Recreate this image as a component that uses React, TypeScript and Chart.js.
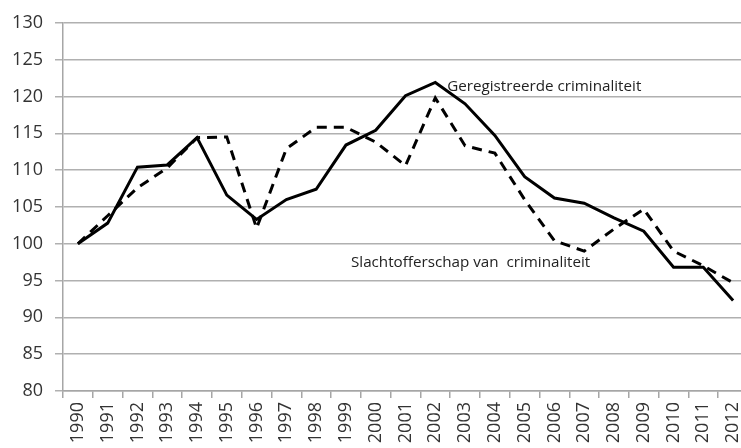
import React, { useEffect, useRef } from "react";
import { Chart, registerables } from "chart.js";

Chart.register(...registerables);

const years = ["1990","1991","1992","1993","1994","1995","1996","1997","1998","1999","2000","2001","2002","2003","2004","2005","2006","2007","2008","2009","2010","2011","2012"];
const geregistreerd = [100, 102.8, 110.4, 110.7, 114.4, 106.6, 103.3, 106.0, 107.4, 113.4, 115.4, 120.1, 121.9, 119.0, 114.7, 109.1, 106.2, 105.5, 103.5, 101.7, 96.8, 96.8, 92.3];
const slachtofferschap = [100, 103.8, 107.6, 110.3, 114.4, 114.5, 102.1, 112.9, 115.8, 115.8, 113.8, 110.6, 119.8, 113.3, 112.3, 106.0, 100.4, 99.0, 102.0, 104.7, 99.0, 97.0, 94.7];
const annotationTexts = ["Geregistreerde criminaliteit", "Slachtofferschap van  criminaliteit"];
const annotationX = [12.4, 9.17];
const annotationY = [120.7, 96.9];
const annotationSizes = [15.2, 15.2];

const annotationPlugin = {
  id: "textAnnotations",
  afterDatasetsDraw(chart: any) {
    const { ctx, scales } = chart;
    ctx.save();
    ctx.fillStyle = "#222";
    ctx.textAlign = "left";
    ctx.textBaseline = "alphabetic";
    annotationTexts.forEach((t, i) => {
      ctx.font = annotationSizes[i] + "px 'Open Sans'";
      const x = scales.x.getPixelForValue(annotationX[i]);
      const y = scales.y.getPixelForValue(annotationY[i]);
      ctx.fillText(t, x, y);
    });
    ctx.restore();
  },
};

export default function App() {
  const ref = useRef<HTMLCanvasElement>(null);
  useEffect(() => {
    document.body.style.overflow = "hidden";
    const chart = new Chart(ref.current!, {
      type: "line",
      data: {
        labels: years,
        datasets: [
          {
            label: "Geregistreerde criminaliteit",
            data: geregistreerd,
            borderColor: "#000",
            borderWidth: 3,
            pointRadius: 0,
            tension: 0,
          },
          {
            label: "Slachtofferschap van criminaliteit",
            data: slachtofferschap,
            borderColor: "#000",
            borderWidth: 3,
            borderDash: [10, 7],
            pointRadius: 0,
            tension: 0,
          },
        ],
      },
      options: {
        responsive: false,
        animation: false,
        layout: { padding: { top: 19, right: 12, left: 0, bottom: 0 } },
        plugins: { legend: { display: false }, tooltip: { enabled: false } },
        scales: {
          x: {
            offset: true,
            grid: {
              drawOnChartArea: false,
              drawTicks: true,
              tickLength: 7,
              color: "#a6a6a6",
              lineWidth: 1.5,
              offset: true,
            },
            border: { color: "#a6a6a6", width: 1.5 },
            ticks: {
              minRotation: 90,
              maxRotation: 90,
              autoSkip: false,
              color: "#333",
              font: { family: "'Open Sans'", size: 18 },
              padding: 4,
            },
            afterFit(s: any) {
              s.height = 79;
            },
          },
          y: {
            min: 80,
            max: 130,
            ticks: {
              stepSize: 5,
              color: "#333",
              font: { family: "'Open Sans'", size: 18 },
              padding: 12,
            },
            grid: { color: "#b0b0b0", lineWidth: 1.5, tickLength: 8 },
            border: { color: "#a6a6a6", width: 1.5 },
            afterFit(s: any) {
              s.width = 63;
            },
          },
        },
      },
      plugins: [annotationPlugin],
    });
    return () => chart.destroy();
  }, []);
  return (
    <div style={{ position: "fixed", left: 0, top: 0, background: "#fff" }}>
      <canvas ref={ref} width={760} height={470} style={{ display: "block" }} />
    </div>
  );
}
